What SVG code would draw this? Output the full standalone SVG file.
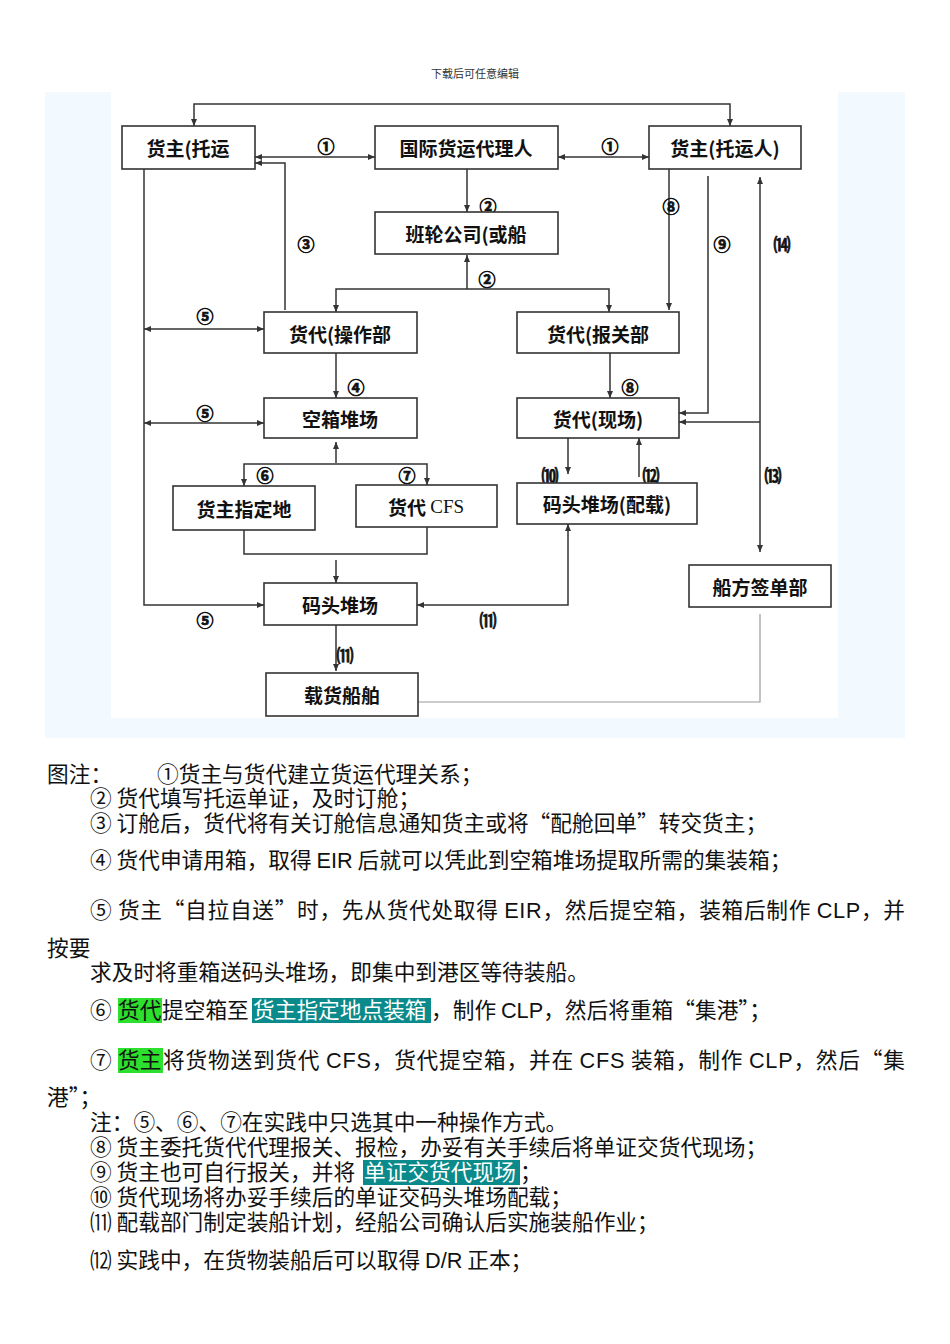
<svg xmlns="http://www.w3.org/2000/svg" width="950" height="1344" viewBox="0 0 950 1344">
<style>
.box{fill:#fff;stroke:#333;stroke-width:1.6}
.nt{font-family:"Noto Sans CJK SC","Liberation Sans",sans-serif;font-weight:bold;font-size:19px;fill:#111;text-anchor:middle;dominant-baseline:central}
.lb{font-family:"Noto Sans CJK SC","Liberation Sans",sans-serif;font-weight:bold;font-size:17px;fill:#111;stroke:#111;stroke-width:0.7;text-anchor:middle;dominant-baseline:central}
.ln{fill:none;stroke:#333;stroke-width:1.5}
.gl{fill:none;stroke:#999;stroke-width:1.2}
.tx{font-family:"Noto Sans CJK SC","Liberation Sans",sans-serif;font-size:21.7px;fill:#111}
.lat{font-family:"Liberation Sans",Arial,sans-serif}
.hdr{font-family:"Liberation Serif","Noto Sans CJK SC",serif;font-size:11px;fill:#333;text-anchor:middle}
</style>
<defs>
<marker id="ar" markerWidth="8" markerHeight="8" refX="7" refY="4" orient="auto-start-reverse" markerUnits="userSpaceOnUse">
<path d="M0,1 L7,4 L0,7 Z" fill="#333"/>
</marker>
</defs>
<rect width="950" height="1344" fill="#fff"/>
<text class="hdr" x="475" y="78">下载后可任意编辑</text>
<rect x="45" y="92" width="860" height="646" fill="#f3faff"/>
<rect x="111" y="92" width="727" height="626" fill="#fff"/>

<g id="connectors">
<path class="ln" d="M194,126 V104 H730 V126" marker-start="url(#ar)" marker-end="url(#ar)"/>
<path class="ln" d="M255,157 H375" marker-start="url(#ar)" marker-end="url(#ar)"/>
<path class="ln" d="M558,157 H649" marker-start="url(#ar)" marker-end="url(#ar)"/>
<path class="ln" d="M467,169 V212" marker-end="url(#ar)"/>
<path class="ln" d="M467,289 V255" marker-end="url(#ar)"/>
<path class="ln" d="M336,312 V289 H609 V312" marker-start="url(#ar)" marker-end="url(#ar)"/>
<path class="ln" d="M285,310 V163 H255" marker-end="url(#ar)"/>
<path class="ln" d="M144,169 V605 H264" marker-end="url(#ar)"/>
<path class="ln" d="M144,329 H264" marker-start="url(#ar)" marker-end="url(#ar)"/>
<path class="ln" d="M144,423 H264" marker-start="url(#ar)" marker-end="url(#ar)"/>
<path class="ln" d="M336,353 V398" marker-end="url(#ar)"/>
<path class="ln" d="M669,169 V310" marker-end="url(#ar)"/>
<path class="ln" d="M708,176 V413 H679" marker-end="url(#ar)"/>
<path class="ln" d="M760,552 V177" marker-start="url(#ar)" marker-end="url(#ar)"/>
<path class="ln" d="M760,422 H679" marker-end="url(#ar)"/>
<path class="ln" d="M610,353 V398" marker-end="url(#ar)"/>
<path class="ln" d="M568,438 V474" marker-end="url(#ar)"/>
<path class="ln" d="M639,477 V438" marker-end="url(#ar)"/>
<path class="ln" d="M417,605 H568 V524" marker-start="url(#ar)" marker-end="url(#ar)"/>
<path class="ln" d="M336,463 V442" marker-end="url(#ar)"/>
<path class="ln" d="M244,486 V464 H427 V485" marker-start="url(#ar)" marker-end="url(#ar)"/>
<path class="ln" d="M244,530 V554 H427 V527"/>
<path class="ln" d="M336,560 V583" marker-end="url(#ar)"/>
<path class="ln" d="M336,625 V671" marker-end="url(#ar)"/>
<path class="gl" d="M760,614 V702 H418"/>
<g id="labels">
<text class="lb" x="326" y="145">①</text>
<text class="lb" x="610" y="145">①</text>
<text class="lb" x="488" y="205">②</text>
<text class="lb" x="306" y="243">③</text>
<text class="lb" x="671" y="205">⑧</text>
<text class="lb" x="722" y="243">⑨</text>
<text class="lb" x="782" y="243">⒁</text>
<text class="lb" x="487" y="278">②</text>
<text class="lb" x="205" y="315">⑤</text>
<text class="lb" x="356" y="386">④</text>
<text class="lb" x="630" y="386">⑧</text>
<text class="lb" x="205" y="412">⑤</text>
<text class="lb" x="265" y="474">⑥</text>
<text class="lb" x="407" y="474">⑦</text>
<text class="lb" x="550" y="474">⑽</text>
<text class="lb" x="651" y="474">⑿</text>
<text class="lb" x="773" y="474">⒀</text>
<text class="lb" x="205" y="619">⑤</text>
<text class="lb" x="488" y="619">⑾</text>
<text class="lb" x="345" y="654">⑾</text>
</g>
</g>

<g id="n-shipper1"><rect class="box" x="122" y="126" width="133" height="43"/><text class="nt" x="188" y="147">货主(托运</text></g>
<g id="n-forwarder"><rect class="box" x="375" y="126" width="183" height="43"/><text class="nt" x="466" y="147">国际货运代理人</text></g>
<g id="n-shipper2"><rect class="box" x="649" y="126" width="152" height="43"/><text class="nt" x="725" y="147">货主(托运人)</text></g>
<g id="n-liner"><rect class="box" x="375" y="212" width="183" height="42"/><text class="nt" x="466" y="233">班轮公司(或船</text></g>
<g id="n-ops"><rect class="box" x="264" y="312" width="153" height="41"/><text class="nt" x="340" y="333">货代(操作部</text></g>
<g id="n-customs"><rect class="box" x="517" y="312" width="162" height="41"/><text class="nt" x="598" y="333">货代(报关部</text></g>
<g id="n-empty"><rect class="box" x="264" y="398" width="153" height="40"/><text class="nt" x="340" y="418">空箱堆场</text></g>
<g id="n-site"><rect class="box" x="517" y="398" width="162" height="40"/><text class="nt" x="598" y="418">货代(现场)</text></g>
<g id="n-place"><rect class="box" x="173" y="486" width="142" height="44"/><text class="nt" x="244" y="508">货主指定地</text></g>
<g id="n-cfs"><rect class="box" x="356" y="485" width="141" height="42"/><text class="nt" x="426" y="506">货代 <tspan font-family="Liberation Serif" font-weight="normal">CFS</tspan></text></g>
<g id="n-stow"><rect class="box" x="517" y="483" width="180" height="41"/><text class="nt" x="607" y="503">码头堆场(配载)</text></g>
<g id="n-yard"><rect class="box" x="264" y="583" width="153" height="42"/><text class="nt" x="340" y="604">码头堆场</text></g>
<g id="n-sign"><rect class="box" x="689" y="565" width="142" height="42"/><text class="nt" x="760" y="586">船方签单部</text></g>
<g id="n-vessel"><rect class="box" x="266" y="673" width="152" height="43"/><text class="nt" x="342" y="694">载货船舶</text></g>

<g id="notes">
<rect x="118" y="998" width="44" height="25" fill="#2ee02e"/>
<rect x="252" y="998" width="179" height="25" fill="#0a8a8a"/>
<rect x="118" y="1048" width="45" height="25" fill="#2ee02e"/>
<rect x="363" y="1160" width="157" height="25" fill="#0a8a8a"/>
<text class="tx" x="47" y="782">图注：</text>
<text class="tx" x="157" y="782">①货主与货代建立货运代理关系；</text>
<text class="tx" x="90" y="806">② 货代填写托运单证，及时订舱；</text>
<text class="tx" x="90" y="831">③ 订舱后，货代将有关订舱信息通知货主或将“配舱回单”转交货主；</text>
<text class="tx" x="90" y="868">④ 货代申请用箱，取得 <tspan class="lat">EIR</tspan> 后就可以凭此到空箱堆场提取所需的集装箱；</text>
<text class="tx" x="90" y="918" textLength="815" lengthAdjust="spacing">⑤ 货主“自拉自送”时，先从货代处取得 <tspan class="lat">EIR</tspan>，然后提空箱，装箱后制作 <tspan class="lat">CLP</tspan>，并</text>
<text class="tx" x="47" y="956">按要</text>
<text class="tx" x="90" y="980">求及时将重箱送码头堆场，即集中到港区等待装船。</text>
<text class="tx" x="90" y="1018">⑥ <tspan x="118">货代</tspan><tspan x="162">提空箱至</tspan><tspan x="253" fill="#fff">货主指定地点装箱</tspan><tspan x="431">，制作 </tspan><tspan class="lat">CLP</tspan>，然后将重箱“集港”；</text>
<text class="tx" x="90" y="1068">⑦ <tspan x="118">货主</tspan></text>
<text class="tx" x="163" y="1068" textLength="742" lengthAdjust="spacing">将货物送到货代 <tspan class="lat">CFS</tspan>，货代提空箱，并在 <tspan class="lat">CFS</tspan> 装箱，制作 <tspan class="lat">CLP</tspan>，然后“集</text>
<text class="tx" x="47" y="1105">港”；</text>
<text class="tx" x="90" y="1130">注：⑤、⑥、⑦在实践中只选其中一种操作方式。</text>
<text class="tx" x="90" y="1155">⑧ 货主委托货代代理报关、报检，办妥有关手续后将单证交货代现场；</text>
<text class="tx" x="90" y="1180">⑨ 货主也可自行报关，并将<tspan x="364" fill="#fff">单证交货代现场</tspan><tspan x="520">；</tspan></text>
<text class="tx" x="90" y="1205">⑩ 货代现场将办妥手续后的单证交码头堆场配载；</text>
<text class="tx" x="90" y="1230">⑾ 配载部门制定装船计划，经船公司确认后实施装船作业；</text>
<text class="tx" x="90" y="1268">⑿ 实践中，在货物装船后可以取得 <tspan class="lat">D/R</tspan> 正本；</text>
</g>
</svg>
